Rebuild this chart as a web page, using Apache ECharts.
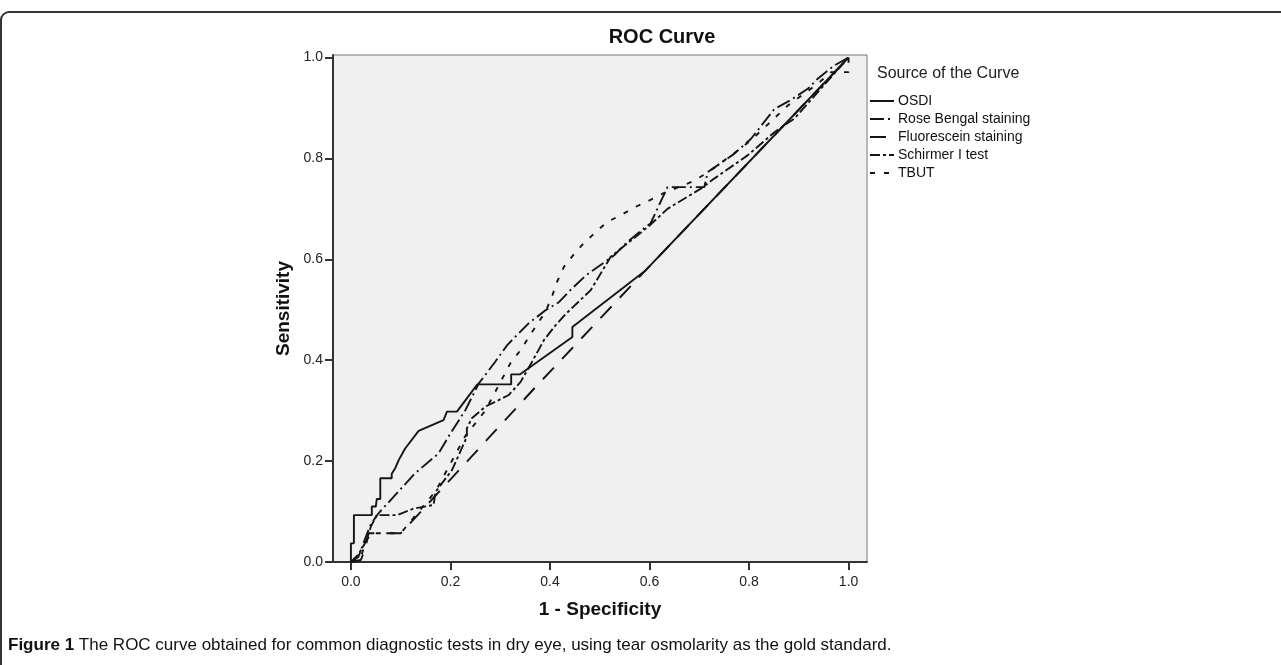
<!DOCTYPE html>
<html>
<head>
<meta charset="utf-8">
<script src="https://cdn.jsdelivr.net/npm/echarts@6/dist/echarts.min.js"></script>
<style>
html,body{margin:0;padding:0;background:#fff;}
#c{width:1281px;height:665px;}
</style>
</head>
<body>
<div id="c"></div>
<script>
const seriesNames = ['OSDI', 'Rose Bengal staining', 'Fluorescein staining', 'Schirmer I test', 'TBUT'];
const xTicks = [0, 0.2, 0.4, 0.6, 0.8, 1.0];
const yTicks = [0, 0.2, 0.4, 0.6, 0.8, 1.0];

const osdi = [[0,0],[0,0.037],[0.006,0.037],[0.006,0.093],[0.042,0.093],[0.042,0.11],[0.05,0.11],[0.052,0.125],[0.059,0.125],[0.059,0.166],[0.082,0.166],[0.082,0.175],[0.089,0.186],[0.096,0.202],[0.109,0.225],[0.136,0.26],[0.186,0.281],[0.193,0.298],[0.213,0.298],[0.254,0.352],[0.322,0.352],[0.322,0.372],[0.34,0.372],[0.445,0.446],[0.445,0.466],[0.592,0.578],[1,1]];
const roseBengal = [[0,0],[0.015,0.01],[0.03,0.05],[0.04,0.075],[0.055,0.096],[0.129,0.176],[0.176,0.215],[0.2,0.255],[0.23,0.301],[0.257,0.354],[0.29,0.397],[0.314,0.43],[0.357,0.473],[0.391,0.499],[0.418,0.515],[0.441,0.539],[0.472,0.568],[0.529,0.608],[0.555,0.634],[0.596,0.667],[0.602,0.671],[0.636,0.743],[0.71,0.743],[0.717,0.773],[0.77,0.809],[0.804,0.839],[0.851,0.898],[0.884,0.916],[0.918,0.938],[0.938,0.958],[0.971,0.984],[1,1]];
const fluorescein = [[0,0],[0.02,0.004],[0.03,0.03],[0.035,0.057],[0.1,0.057],[0.106,0.063],[0.374,0.35],[0.592,0.578],[1,1]];
const schirmer = [[0,0],[0.015,0.015],[0.03,0.04],[0.04,0.07],[0.052,0.093],[0.093,0.093],[0.126,0.106],[0.166,0.113],[0.17,0.139],[0.203,0.182],[0.233,0.248],[0.233,0.265],[0.243,0.285],[0.27,0.308],[0.297,0.321],[0.317,0.331],[0.341,0.357],[0.364,0.397],[0.388,0.44],[0.411,0.469],[0.431,0.491],[0.482,0.539],[0.522,0.605],[0.555,0.631],[0.6,0.667],[0.636,0.7],[0.703,0.74],[0.73,0.76],[0.797,0.806],[0.851,0.852],[0.891,0.879],[1,1]];
const tbut = [[0,0],[0.02,0.01],[0.03,0.04],[0.04,0.057],[0.1,0.057],[0.17,0.14],[0.23,0.25],[0.27,0.3],[0.321,0.395],[0.341,0.42],[0.364,0.456],[0.391,0.496],[0.405,0.529],[0.414,0.555],[0.428,0.585],[0.448,0.61],[0.468,0.632],[0.492,0.654],[0.515,0.674],[0.545,0.689],[0.572,0.704],[0.6,0.717],[0.626,0.73],[0.686,0.754],[0.717,0.772],[0.767,0.808],[0.804,0.836],[0.878,0.905],[0.938,0.948],[0.965,0.971],[1,0.971],[1,1]];

const seriesData = [osdi, roseBengal, fluorescein, schirmer, tbut];
const dashTypes = ['solid', [14,4,2,4], [16,12], [10,3,3,3], [5,9]];

const chart = echarts.init(document.getElementById('c'), null, {renderer: 'canvas'});
const FONT = 'Liberation Sans, Arial, sans-serif';

chart.setOption({
  backgroundColor: '#ffffff',
  animation: false,
  title: [
    {text: 'ROC Curve', left: 657, top: 22, textAlign: 'center',
     textStyle: {fontFamily: FONT, fontSize: 20, fontWeight: 'bold', color: '#111'}},
    {text: 'Source of the Curve', left: 872, top: 61,
     textStyle: {fontFamily: FONT, fontSize: 16, fontWeight: 'normal', color: '#222'}}
  ],
  legend: {
    orient: 'vertical', left: 869, top: 94, padding: 0, itemGap: 4, itemWidth: 24, itemHeight: 14,
    itemStyle: {color: 'rgba(0,0,0,0)', borderWidth: 0, opacity: 0},
    textStyle: {fontFamily: FONT, fontSize: 14, color: '#111', padding: [0,0,0,-1]},
    data: seriesNames
  },
  grid: {left: 333, top: 55, right: 414, bottom: 103, show: true, backgroundColor: '#f0f0f0', borderColor: '#777', borderWidth: 1, containLabel: false},
  xAxis: {
    type: 'value', min: -0.036, max: 1.037,
    name: '1 - Specificity', nameLocation: 'middle', nameGap: 38,
    nameTextStyle: {fontFamily: FONT, fontSize: 19, fontWeight: 'bold', color: '#111'},
    axisLine: {show: true, onZero: false, lineStyle: {color: '#333', width: 2}},
    axisTick: {show: true, length: 8, lineStyle: {color: '#333', width: 2}, customValues: xTicks},
    axisLabel: {fontFamily: FONT, fontSize: 14, color: '#222', margin: 13, customValues: xTicks, formatter: v => v.toFixed(1)},
    splitLine: {show: false}
  },
  yAxis: {
    type: 'value', min: 0, max: 1.005,
    name: 'Sensitivity', nameLocation: 'middle', nameGap: 40, nameRotate: 90,
    nameTextStyle: {fontFamily: FONT, fontSize: 19, fontWeight: 'bold', color: '#111'},
    axisLine: {show: true, onZero: false, lineStyle: {color: '#333', width: 2}},
    axisTick: {show: true, length: 8, lineStyle: {color: '#333', width: 2}, customValues: yTicks},
    axisLabel: {fontFamily: FONT, fontSize: 14, color: '#222', margin: 10, customValues: yTicks, formatter: v => v.toFixed(1)},
    splitLine: {show: false}
  },
  series: seriesNames.map((n, i) => ({
    name: n, type: 'line', data: seriesData[i], symbol: 'none', showSymbol: false,
    lineStyle: {color: '#151515', width: 1.9, type: dashTypes[i]},
    itemStyle: {color: '#151515'}
  })),
  graphic: [
    {type: 'rect', shape: {x: 1, y: 12, width: 1300, height: 700, r: 8}, style: {fill: 'none', stroke: '#333', lineWidth: 2}, silent: true, z: -1},
    {type: 'text', left: 8, top: 637, style: {
      text: '{b|Figure 1} The ROC curve obtained for common diagnostic tests in dry eye, using tear osmolarity as the gold standard.',
      font: '17px Liberation Sans, Arial, sans-serif', fill: '#111',
      rich: {b: {fontWeight: 'bold', fontSize: 17, fontFamily: FONT, fill: '#111'}}
    }}
  ]
});
</script>
</body>
</html>
